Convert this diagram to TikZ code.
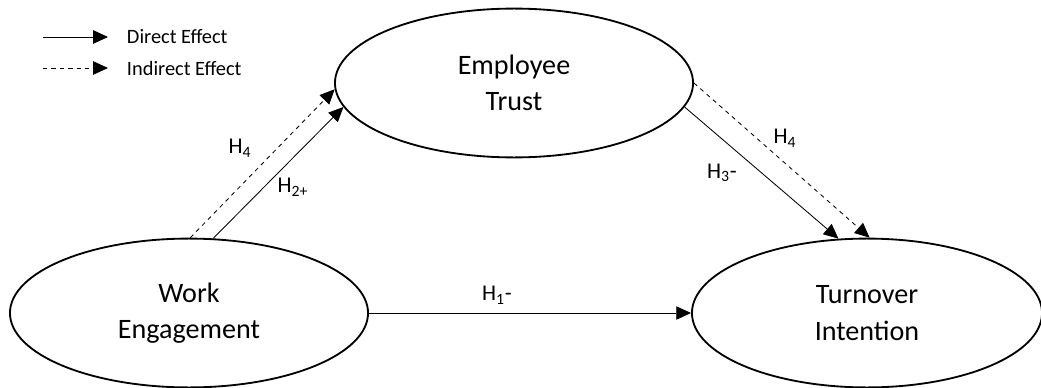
\documentclass[tikz,border=0pt]{standalone}
\usepackage{fontspec}
\setmainfont{Carlito}
\usetikzlibrary{arrows.meta,shapes.geometric}

\begin{document}
\begin{tikzpicture}[x=0.025cm,y=-0.025cm,>={Triangle[length=10.5pt,width=9.5pt]},shorten >=0pt,
  latent/.style={ellipse,draw,line width=1.3pt,minimum width=8.95cm,minimum height=3.72cm,align=center,font=\fontsize{20}{26}\selectfont},
  direct/.style={->,line width=0.6pt},
  indirect/.style={->,line width=0.6pt,dash pattern=on 3pt off 3pt},
  hyp/.style={font=\fontsize{16}{19}\selectfont},
  legend/.style={anchor=west,font=\fontsize{14.5}{17}\selectfont}]
  \useasboundingbox (0,0) rectangle (1041,388);

  % constructs
  \node[latent] (trust) at (514,83) {Employee\\Trust};
  \node[latent] (engage) at (189,313) {Work\\Engagement};
  \node[latent,minimum width=8.75cm] (turnover) at (867,313) {Turnover\\Intention};

  % legend
  \coordinate (d1) at (43,37);
  \coordinate (d2) at (108,37);
  \coordinate (i1) at (43,68);
  \coordinate (i2) at (108,68);
  \node[legend] (dtext) at (122,37) {Direct Effect};
  \node[legend] (itext) at (122,68) {Indirect Effect};
  \draw[direct] (d1) -- (d2);
  \draw[indirect] (i1) -- (i2);

  % paths
  \draw[direct] (engage.72) -- (trust.188);
  \draw[indirect] (engage.89) -- (trust.182);
  \draw[direct] (trust.352) -- (turnover.111);
  \draw[indirect] (trust.0) -- (turnover.88);
  \draw[direct] (engage.east) -- (turnover.west);

  % labels
  \node[hyp] (h4a) at (240,148) {H\textsubscript{4}};
  \node[hyp] (h2) at (293,187) {H\textsubscript{2+}};
  \node[hyp] (h3) at (722,173) {H\textsubscript{3}-};
  \node[hyp] (h4b) at (785,138) {H\textsubscript{4}};
  \node[hyp] (h1) at (497,295) {H\textsubscript{1}-};
\end{tikzpicture}
\end{document}
